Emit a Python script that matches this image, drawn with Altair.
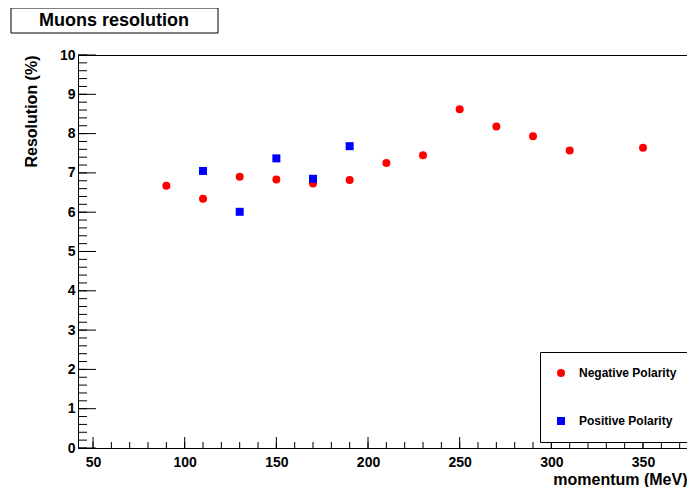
import altair as alt
import pandas as pd

# ---- data ----
neg_momentum = [90, 110, 130, 150, 170, 190, 210, 230, 250, 270, 290, 310, 350]
neg_resolution = [6.67, 6.34, 6.90, 6.83, 6.73, 6.82, 7.25, 7.45, 8.62, 8.18, 7.93, 7.57, 7.64]
pos_momentum = [110, 130, 150, 170, 190]
pos_resolution = [7.05, 6.01, 7.37, 6.85, 7.68]
series_labels = ["Negative Polarity", "Positive Polarity"]
series_colors = ["#ff0000", "#0000ff"]
series_shapes = ["circle", "square"]

x_major = [50, 100, 150, 200, 250, 300, 350]
x_minor = list(range(50, 371, 10))
y_major = list(range(0, 11))
y_minor = [round(i * 0.2, 1) for i in range(51)]

title_text = ["Muons resolution"]

points = pd.DataFrame({
    "momentum": neg_momentum + pos_momentum,
    "resolution": neg_resolution + pos_resolution,
    "polarity": [series_labels[0]] * len(neg_momentum) + [series_labels[1]] * len(pos_momentum),
})

W, H = 609, 393
FONT = "Liberation Sans"

xscale = alt.Scale(domain=[41.8, 374.0], nice=False, zero=False)
yscale = alt.Scale(domain=[0, 10], nice=False, zero=False)

xaxis = alt.Axis(values=x_major, ticks=False, domain=False, grid=False,
                 labelPadding=7, labelOverlap=False,
                 title="momentum (MeV)", titleX=W, titleY=36,
                 titleAlign="right", titleBaseline="alphabetic")
yaxis = alt.Axis(values=y_major, ticks=False, domain=False, grid=False,
                 labelPadding=3, labelOverlap=False,
                 title="Resolution (%)", titleAngle=270, titleX=-47, titleY=0,
                 titleAlign="right", titleBaseline="middle")

pts = alt.Chart(points).mark_point(filled=True, opacity=1, size=64, strokeWidth=0).encode(
    x=alt.X("momentum:Q", scale=xscale, axis=xaxis),
    y=alt.Y("resolution:Q", scale=yscale, axis=yaxis),
    color=alt.Color("polarity:N", scale=alt.Scale(domain=series_labels, range=series_colors),
                    legend=alt.Legend(title=None)),
    shape=alt.Shape("polarity:N", scale=alt.Scale(domain=series_labels, range=series_shapes),
                    legend=alt.Legend(title=None)),
)

def yticks(vals, length):
    return alt.Chart(pd.DataFrame({"v": vals})).mark_rule(color="black", strokeWidth=1).encode(
        y=alt.Y("v:Q", scale=yscale, axis=yaxis),
        x=alt.value(0), x2=alt.value(length))

def xticks(vals, length):
    return alt.Chart(pd.DataFrame({"v": vals})).mark_rule(color="black", strokeWidth=1).encode(
        x=alt.X("v:Q", scale=xscale, axis=xaxis),
        y=alt.value(H), y2=alt.value(H - length))

title_df = pd.DataFrame({"t": title_text})
title_box = alt.Chart(title_df).mark_rect(fill="white", stroke="black", strokeWidth=1).encode(
    x=alt.value(-67), x2=alt.value(140), y=alt.value(-47), y2=alt.value(-22))
title_label = alt.Chart(title_df).mark_text(
    font=FONT, fontSize=18, fontWeight="bold", color="black", align="center", baseline="middle"
).encode(text="t:N", x=alt.value(36), y=alt.value(-34))

chart = alt.layer(
    pts,
    yticks(y_minor, 9), yticks(y_major, 18),
    xticks(x_minor, 6), xticks(x_major, 11),
    title_box, title_label,
).properties(
    width=W, height=H, autosize="none",
    padding={"left": 70, "top": 47, "right": 0, "bottom": 39},
).configure_view(
    stroke="black", strokeWidth=1, fill="white"
).configure_axis(
    labelFont=FONT, labelFontSize=14, labelFontWeight="bold", labelColor="black",
    titleFont=FONT, titleFontSize=16, titleFontWeight="bold", titleColor="black",
).configure_legend(
    orient="none", legendX=462, legendY=297, strokeColor="black", fillColor="white",
    padding=15, rowPadding=36, labelFont=FONT, labelFontSize=12, labelFontWeight="bold",
    labelColor="black", labelOffset=12, symbolSize=64, symbolStrokeWidth=0, cornerRadius=0,
)

chart.save("out.html", embed_options={"renderer": "svg", "actions": False})
